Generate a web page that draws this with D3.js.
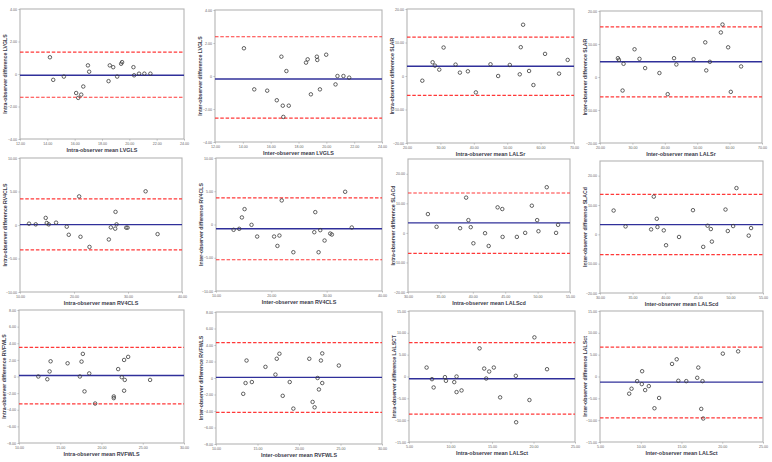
<!DOCTYPE html>
<html><head><meta charset="utf-8">
<script src="https://cdn.jsdelivr.net/npm/d3@7"></script>
<style>body{margin:0;background:#fff}svg{display:block}</style>
</head><body><svg id="c" width="772" height="462"></svg>
<script>
// ---------- DATA ----------
const panelNames = ["LVGLS intra","LVGLS inter","LALSr intra","LALSr inter","RV4CLS intra","RV4CLS inter","LALScd intra","LALScd inter","RVFWLS intra","RVFWLS inter","LALSct intra","LALSct inter"];
const xTitles = ["Intra-observer mean LVGLS","Inter-observer mean LVGLS","Intra-observer mean LALSr","Inter-observer mean LALSr","Intra-observer mean RV4CLS","Inter-observer mean RV4CLS","Intra-observer mean LALScd","Inter-observer mean LALScd","Intra-observer mean RVFWLS","Inter-observer mean RVFWLS","Intra-observer mean LALSct","Inter-observer mean LALSct"];
const yTitles = ["Intra-observer difference LVGLS","Inter-observer difference LVGLS","Intra-observer difference SLAR","Inter-observer difference SLAR","Intra-observer difference RV4CLS","Inter-observer difference RV4CLS","Intra-observer difference SLACd","Inter-observer difference SLACd","Intra-observer difference RVFWLS","Inter-observer difference RVFWLS","Intra-observer difference LALSCT","Inter-observer difference LALSct"];
const xTicks = [
  [12,14,16,18,20,22,24],[12,14,16,18,20,22,24],
  [20,30,40,50,60,70],[20,30,40,50,60,70],
  [10,20,30,40],[10,20,30,40],
  [30,35,40,45,50,55],[30,35,40,45,50,55],
  [10,15,20,25,30],[10,15,20,25,30],
  [5,10,15,20,25],[5,10,15,20,25]];
const yTicks = [
  [-4,-2,0,2,4],[-4,-2,0,2,4],
  [-20,-10,0,10,20],[-20,-10,0,10,20],
  [-10,-5,0,5,10],[-10,-5,0,5,10],
  [-20,-10,0,10,20],[-20,-10,0,10,20],
  [-8,-6,-4,-2,0,2,4,6,8],[-8,-6,-4,-2,0,2,4,6,8],
  [-15,-10,-5,0,5,10,15],[-15,-10,-5,0,5,10,15]];
const yMax = [4,4,20,20,10,10,25,25,8,8,15,15];
const yMin = [-4,-4,-20,-20,-10,-10,-20,-20,-8,-8,-15,-15];
const meanDiff = [-0.08,-0.18,2.9,4.6,0.05,-0.65,3.4,3.3,0.12,0.08,-0.53,-1.29];
const upperLoA = [1.35,2.38,11.6,15.2,3.9,4.0,13.5,13.6,3.5,4.3,7.75,6.74];
const lowerLoA = [-1.43,-2.55,-5.8,-6.0,-3.7,-5.3,-6.9,-6.9,-3.3,-4.16,-8.6,-9.47];

const lvglsIntraMean = [14.19,14.43,15.21,16.11,16.26,16.48,16.63,16.97,17.06,18.48,18.57,18.82,19.11,19.40,19.47,20.30,20.35,20.71,21.10,21.54];
const lvglsIntraDiff = [1.03,-0.36,-0.16,-1.17,-1.47,-1.27,-0.77,0.53,0.14,-0.44,0.53,0.42,-0.16,0.63,0.73,0.42,-0.08,0.02,0.02,0.02];
const lvglsInterMean = [14.08,14.82,15.75,16.44,16.77,16.87,16.91,17.13,17.30,18.54,18.66,18.89,19.32,19.35,19.54,19.99,20.66,20.80,21.23,21.64];
const lvglsInterDiff = [1.68,-0.81,-0.89,-1.47,1.17,-1.80,-2.48,0.30,-1.80,0.81,1.01,-1.11,1.17,0.97,-0.81,1.29,-0.51,0.0,0.0,-0.10];
const lalsrIntraMean = [24.58,27.67,28.37,29.66,30.96,34.54,35.84,38.23,40.62,45.0,47.29,50.78,53.76,54.06,54.76,56.55,57.85,61.33,65.52,68.11];
const lalsrIntraDiff = [-1.4,4.1,3.1,1.9,8.5,3.4,1.0,1.4,-4.9,3.5,0,3.3,0.5,8.6,15.3,1.5,-2.7,6.6,0.7,4.8];
const lalsrInterMean = [25.53,25.84,27.27,26.97,30.66,32.19,33.93,38.34,40.90,42.85,43.57,48.89,52.48,52.79,53.91,57.30,57.81,59.55,60.37,63.55];
const lalsrInterDiff = [5.7,5.2,4.0,-4.1,8.4,5.5,2.7,1.2,-5.2,5.7,3.8,5.4,10.5,2.0,4.6,13.5,15.9,9.0,-4.5,3.2];
const rv4clsIntraMean = [11.67,12.91,14.76,14.95,15.32,16.68,18.66,19.03,20.95,21.20,22.87,26.45,26.82,27.63,27.69,27.88,29.67,29.92,33.26,35.48];
const rv4clsIntraDiff = [0.2,0.1,1.06,0.3,0.1,0.35,-0.25,-1.46,4.27,-1.76,-3.27,-2.16,-0.35,-0.55,1.96,0.1,-0.4,-0.4,5.03,-1.36];
const rv4clsInterMean = [13.18,14.2,14.68,15.16,16.42,17.44,20.5,21.1,21.46,21.88,23.98,27.76,27.94,28.54,28.84,29.62,30.64,30.94,33.34,34.54];
const rv4clsInterDiff = [-0.8,-0.65,1.06,2.31,-0.05,-1.81,-1.81,-3.22,-1.66,3.62,-4.17,-1.16,1.86,-4.17,-0.85,-2.41,-1.36,-1.51,4.92,-0.45];
const lalscdIntraMean = [33.07,34.41,38.04,38.97,39.32,39.68,40.09,41.89,42.45,43.83,44.55,44.6,46.8,48.08,49.11,49.93,50.13,51.41,52.85,53.16];
const lalscdIntraDiff = [6.36,2.05,1.59,11.93,4.32,1.93,-3.52,-0.11,-4.43,8.64,8.07,-1.36,-1.36,0,9.2,4.32,0.57,15.45,0,2.73];
const lalscdInterMean = [32.09,33.92,37.84,38.25,38.71,38.81,39.78,40.13,42.12,44.26,45.83,46.5,47.0,47.16,49.25,49.6,50.42,50.93,52.81,53.17];
const lalscdInterDiff = [8.11,2.7,1.69,12.85,5.3,2.48,1.35,-3.72,-0.9,8.23,-4.28,2.93,1.8,-2.48,8.45,1.13,2.82,15.77,-0.45,2.14];
const rvfwlsIntraMean = [12.34,13.43,13.71,13.83,15.89,17.38,17.58,17.74,17.94,18.51,19.23,21.49,21.49,22.02,22.46,22.74,22.74,22.82,23.23,25.89];
const rvfwlsIntraDiff = [0,-0.33,0.61,1.83,1.59,0,1.79,2.72,-1.79,0.37,-3.25,-2.4,-2.6,0.89,-0.08,1.99,-1.71,-0.41,2.36,-0.41];
const rvfwlsInterMean = [13.28,13.56,13.68,14.32,15.96,17.16,17.32,17.64,18.04,18.88,19.32,21.24,21.64,21.88,22.24,22.4,22.64,22.8,22.8,24.8];
const rvfwlsInterDiff = [-1.92,-0.61,2.12,-0.49,1.35,0.41,2.33,2.94,-2.16,-0.49,-3.71,2.33,-2.9,-3.55,0,-1.39,2.12,-0.61,2.98,1.51];
const lalsctIntraMean = [7.12,7.77,7.97,9.33,9.45,10.45,10.73,10.73,11.33,13.5,14.06,14.3,14.66,15.22,15.98,17.87,17.91,19.51,20.11,21.63];
const lalsctIntraDiff = [2.05,-0.61,-2.51,-0.15,-0.99,-1.29,0,-3.57,-3.19,6.45,1.82,-0.46,1.14,2.05,-4.78,0.15,-10.48,-5.39,8.96,1.67];
const lalsctInterMean = [8.58,8.87,9.56,10.13,10.17,10.54,10.99,11.68,12.25,13.84,14.41,14.61,15.59,16.93,17.06,17.42,17.58,17.67,20.07,21.95];
const lalsctInterDiff = [-3.94,-2.8,-1.06,-1.74,1.21,-3.11,-2.2,-7.27,-4.92,2.88,3.94,-0.98,-1.06,-0.3,2.05,-7.42,-1.06,-9.62,5.23,5.76];

const seriesX = [lvglsIntraMean,lvglsInterMean,lalsrIntraMean,lalsrInterMean,rv4clsIntraMean,rv4clsInterMean,lalscdIntraMean,lalscdInterMean,rvfwlsIntraMean,rvfwlsInterMean,lalsctIntraMean,lalsctInterMean];
const seriesY = [lvglsIntraDiff,lvglsInterDiff,lalsrIntraDiff,lalsrInterDiff,rv4clsIntraDiff,rv4clsInterDiff,lalscdIntraDiff,lalscdInterDiff,rvfwlsIntraDiff,rvfwlsInterDiff,lalsctIntraDiff,lalsctInterDiff];

// ---------- LAYOUT (pixel boxes of plot frames) ----------
const boxes = [
  [20,9,184,139],[215,10,382,142],[407,9,574,143],[600,11,762,143],
  [20,158,182,292],[216,158,382,291],[408,159,570,292],[600,161,763,293],
  [19,310,184,443],[216,312,382,444],[409,311,575,442],[600,311,763,442]];

const svg = d3.select("#c");
const fmt = v => v === 0 ? "0" : d3.format(".2f")(v);
const frameCol = "#b4b4b4", textCol = "#666";
const font = "Liberation Sans, Arial, sans-serif";

panelNames.forEach((name, i) => {
  const [L,T,R,B] = boxes[i];
  const xs = d3.scaleLinear().domain(d3.extent(xTicks[i])).range([L,R]);
  const ys = d3.scaleLinear().domain([yMin[i], yMax[i]]).range([B,T]);
  const g = svg.append("g").attr("class","panel");

  const ax = g.append("g").attr("transform",`translate(0,${B})`)
    .call(d3.axisBottom(xs).tickValues(xTicks[i]).tickFormat(fmt).tickSize(1.5).tickPadding(1.5));
  const ay = g.append("g").attr("transform",`translate(${L},0)`)
    .call(d3.axisLeft(ys).tickValues(yTicks[i]).tickFormat(fmt).tickSize(1.5).tickPadding(1.5));
  [ax,ay].forEach(a => {
    a.select(".domain").remove();
    a.selectAll("line").attr("stroke","#888").attr("stroke-width",0.6);
    a.selectAll("text").attr("fill",textCol).attr("font-size",3.6).attr("font-family",font);
  });

  g.append("rect").attr("x",L).attr("y",T).attr("width",R-L).attr("height",B-T)
    .attr("fill","none").attr("stroke",frameCol).attr("stroke-width",1.1);

  const line = (v, col, w, dash) => g.append("line")
    .attr("x1",L).attr("x2",R).attr("y1",ys(v)).attr("y2",ys(v))
    .attr("stroke",col).attr("stroke-width",w).attr("stroke-dasharray",dash);
  line(upperLoA[i], "#ff3838", 1.2, "3.5,1.8");
  line(lowerLoA[i], "#ff3838", 1.2, "3.5,1.8");
  line(meanDiff[i], "#30309a", 1.4, null);

  g.selectAll("circle.pt").data(seriesX[i].map((x,k)=>[x, seriesY[i][k]])).join("circle")
    .attr("class","pt").attr("cx",d=>xs(d[0])).attr("cy",d=>ys(d[1])).attr("r",1.75)
    .attr("fill","none").attr("stroke","#3a3a3a").attr("stroke-width",0.8);

  g.append("text").attr("x",(L+R)/2).attr("y",B+12.5).attr("text-anchor","middle")
    .attr("font-size",5.4).attr("font-weight","bold").attr("fill","#3a3a4a")
    .attr("font-family",font).text(xTitles[i]);
  g.append("text").attr("transform",`translate(${L-13},${(T+B)/2}) rotate(-90)`).attr("text-anchor","middle")
    .attr("font-size",5.2).attr("font-weight","bold").attr("fill","#3a3a4a")
    .attr("font-family",font).text(yTitles[i]);
});
</script></body></html>
